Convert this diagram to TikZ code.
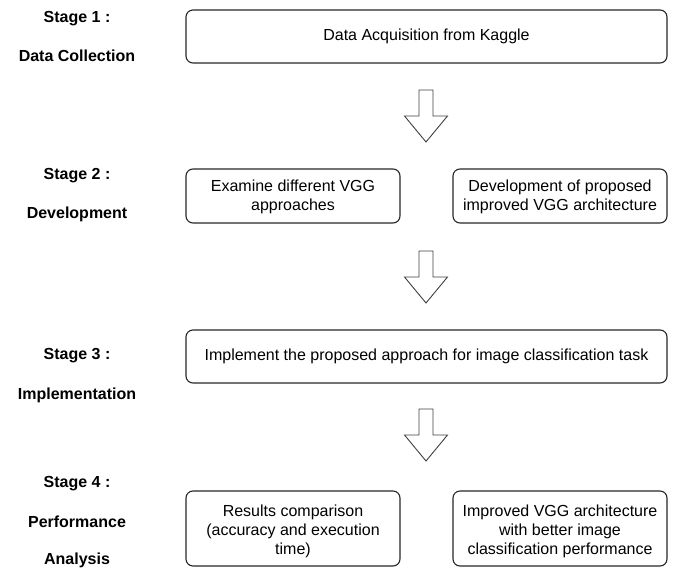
\documentclass[tikz,border=0pt]{standalone}
\usepackage{fontspec}
\setmainfont{Liberation Sans}
\begin{document}
\begin{tikzpicture}[x=1pt,y=-1pt,
  box/.style={draw=black!85, line width=1.1pt, rounded corners=7pt},
  boxtext/.style={align=center, font=\fontsize{16}{19}\selectfont},
  stagelbl/.style={font=\bfseries\fontsize{16}{19}\selectfont},
  flowarrow/.style={draw=black!75, line width=0.9pt, fill=white}]
\useasboundingbox (0,0) rectangle (675,570);

% stage labels
\node[stagelbl] (s1a) at (77,19) {Stage 1 :};
\node[stagelbl] (s1b) at (77,56) {Data Collection};
\node[stagelbl] (s2a) at (77,176) {Stage 2 :};
\node[stagelbl] (s2b) at (77,214) {Development};
\node[stagelbl] (s3a) at (77,356) {Stage 3 :};
\node[stagelbl] (s3b) at (77,395) {Implementation};
\node[stagelbl] (s4a) at (77,484) {Stage 4 :};
\node[stagelbl] (s4b) at (77,522) {Performance};
\node[stagelbl] (s4c) at (77,560) {Analysis};

% process boxes
\draw[box] (186,10) rectangle (667,63);
\node[boxtext] (b1) at (426.5,36) {Data Acquisition from Kaggle};

\draw[box] (186,169) rectangle (400,223);
\node[boxtext] (b2a) at (293,197) {Examine different VGG\\approaches};
\draw[box] (453,169) rectangle (667,223);
\node[boxtext] (b2b) at (560,197) {Development of proposed\\improved VGG architecture};

\draw[box] (186,330) rectangle (667,383);
\node[boxtext] (b3) at (426.5,356) {Implement the proposed approach for image classification task};

\draw[box] (186,491) rectangle (400,566);
\node[boxtext] (b4a) at (293,531) {Results comparison\\(accuracy and execution\\time)};
\draw[box] (453,491) rectangle (667,566);
\node[boxtext] (b4b) at (560,531) {Improved VGG architecture\\with better image\\classification performance};

% hollow down arrows between stages
\foreach \t/\n in {90/a1, 251/a2, 409/a3}{
  \draw[flowarrow] (419,\t) -- (433,\t) -- (433,\t+26) -- (447.5,\t+26)
    -- (426,\t+52) -- (404.5,\t+26) -- (419,\t+26) -- cycle;
  \coordinate (\n) at (426,\t);
}
\end{tikzpicture}
\end{document}
